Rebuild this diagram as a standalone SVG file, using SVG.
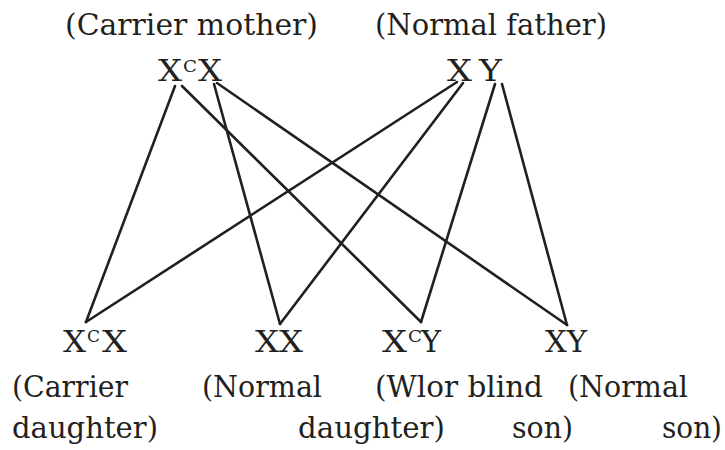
<svg xmlns="http://www.w3.org/2000/svg" width="725" height="450" viewBox="0 0 725 450">
<style>
  text { font-family: "DejaVu Serif", "Liberation Serif", serif; font-size: 30px; fill: #231f20; }
  .sup { font-size: 17px; }
  .c line { stroke: #231f20; stroke-width: 2.6; stroke-linecap: round; }
</style>
<rect width="725" height="450" fill="#ffffff"/>
<g id="mother">
  <text x="65" y="35" textLength="253" lengthAdjust="spacingAndGlyphs">(Carrier mother)</text>
  <text x="158" y="81" textLength="24" lengthAdjust="spacingAndGlyphs">X</text>
  <text class="sup" x="183" y="72" textLength="14" lengthAdjust="spacingAndGlyphs">C</text>
  <text x="198" y="81" textLength="24" lengthAdjust="spacingAndGlyphs">X</text>
</g>
<g id="father">
  <text x="375" y="35" textLength="232" lengthAdjust="spacingAndGlyphs">(Normal father)</text>
  <text x="447" y="81" textLength="25" lengthAdjust="spacingAndGlyphs">X</text>
  <text x="479" y="81" textLength="23" lengthAdjust="spacingAndGlyphs">Y</text>
</g>
<g id="carrier-daughter">
  <text x="63" y="352" textLength="23" lengthAdjust="spacingAndGlyphs">X</text>
  <text class="sup" x="87" y="342" textLength="13" lengthAdjust="spacingAndGlyphs">C</text>
  <text x="102" y="352" textLength="25" lengthAdjust="spacingAndGlyphs">X</text>
  <text x="12" y="397" textLength="116" lengthAdjust="spacingAndGlyphs">(Carrier</text>
  <text x="12" y="438" textLength="146" lengthAdjust="spacingAndGlyphs">daughter)</text>
</g>
<g id="normal-daughter">
  <text x="255" y="352" textLength="48" lengthAdjust="spacingAndGlyphs">XX</text>
  <text x="202" y="397" textLength="120" lengthAdjust="spacingAndGlyphs">(Normal</text>
  <text x="298" y="438" textLength="147" lengthAdjust="spacingAndGlyphs">daughter)</text>
</g>
<g id="colour-blind-son">
  <text x="382" y="352" textLength="25" lengthAdjust="spacingAndGlyphs">X</text>
  <text class="sup" x="408" y="342" textLength="14" lengthAdjust="spacingAndGlyphs">C</text>
  <text x="421" y="352" textLength="20" lengthAdjust="spacingAndGlyphs">Y</text>
  <text x="375" y="397" textLength="168" lengthAdjust="spacingAndGlyphs">(Wlor blind</text>
  <text x="512" y="438" textLength="61" lengthAdjust="spacingAndGlyphs">son)</text>
</g>
<g id="normal-son">
  <text x="545" y="352" textLength="42" lengthAdjust="spacingAndGlyphs">XY</text>
  <text x="568" y="397" textLength="120" lengthAdjust="spacingAndGlyphs">(Normal</text>
  <text x="662" y="438" textLength="60" lengthAdjust="spacingAndGlyphs">son)</text>
</g>
<g id="connectors" class="c">
  <line x1="175" y1="86" x2="86" y2="322"/>
  <line x1="182" y1="86" x2="421" y2="322"/>
  <line x1="214" y1="84" x2="280" y2="324"/>
  <line x1="217" y1="83" x2="567" y2="325"/>
  <line x1="457" y1="82" x2="86" y2="322"/>
  <line x1="463" y1="83" x2="280" y2="324"/>
  <line x1="495" y1="84" x2="421" y2="322"/>
  <line x1="502" y1="84" x2="567" y2="325"/>
</g>
</svg>
